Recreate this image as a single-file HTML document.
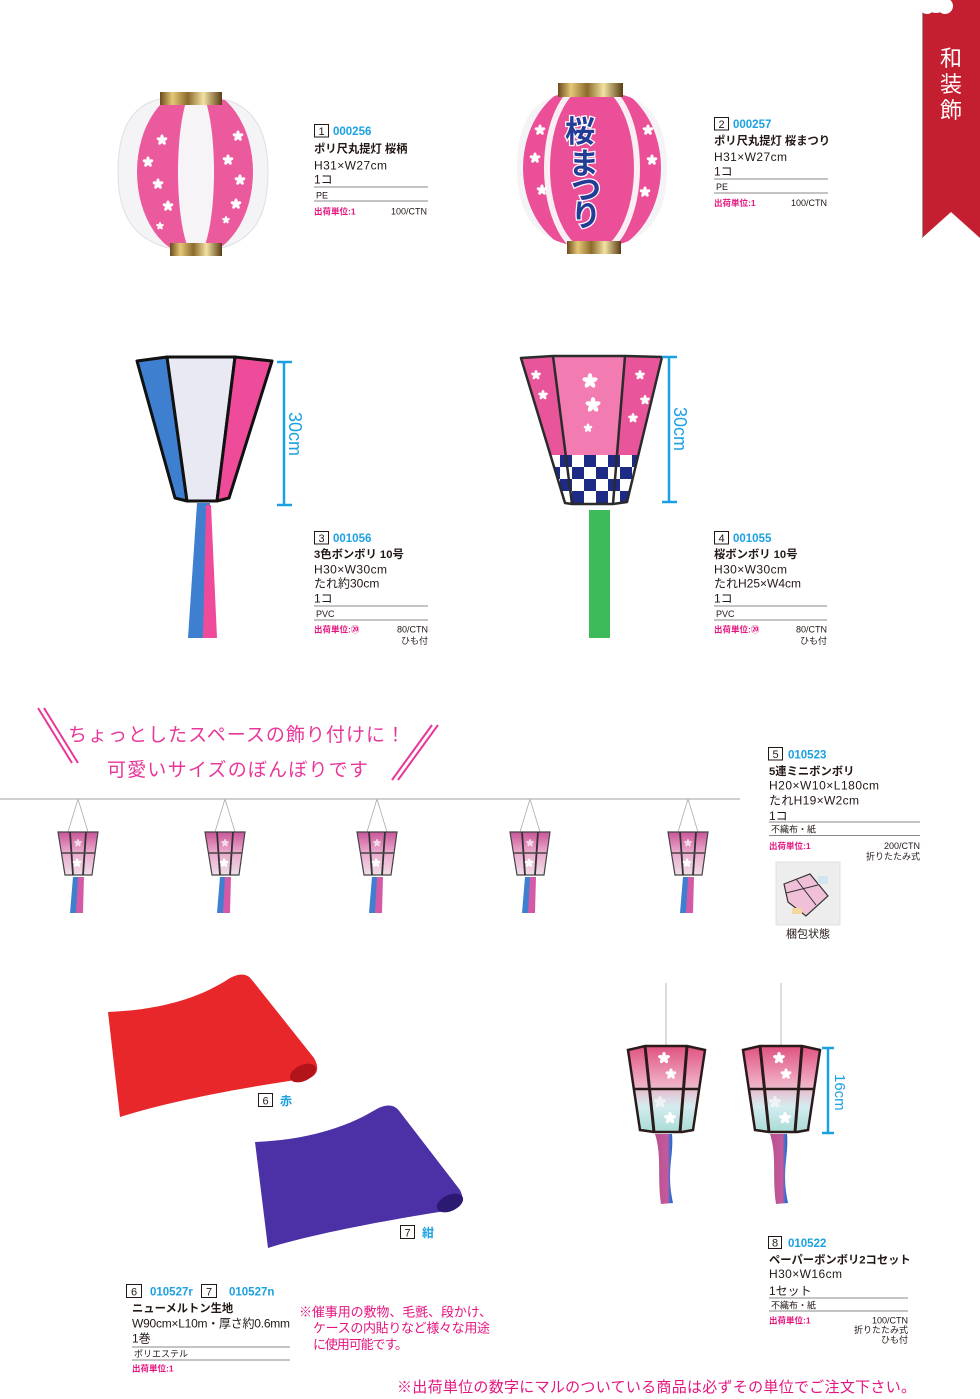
<!DOCTYPE html>
<html><head><meta charset="utf-8">
<style>
html,body{margin:0;padding:0;background:#fff;}
svg{display:block;font-family:"Liberation Sans","Noto Sans CJK JP",sans-serif;}
.c{fill:#1ba1e2;font-weight:bold;font-size:11.5px}
.n{font-weight:bold;font-size:11.3px;fill:#231815}
.s{font-size:12px;fill:#231815}
.m{font-size:9px;fill:#231815}
.p{fill:#e4157f;font-size:8.5px;font-weight:bold}
.k{font-size:9px;fill:#231815}
.bx{fill:#fff;stroke:#231815;stroke-width:1}
.bn{font-size:11px;fill:#231815;text-anchor:middle}
.ln{stroke:#888;stroke-width:1}
.dim{stroke:#1ba1e2;stroke-width:2.5;fill:none}
.dt{fill:#1ba1e2;font-size:18px}
</style></head><body>
<svg width="980" height="1399" viewBox="0 0 980 1399" xmlns="http://www.w3.org/2000/svg">
<defs>
 <linearGradient id="gold" x1="0" x2="1" y1="0" y2="0">
  <stop offset="0" stop-color="#6b4a1c"/><stop offset=".2" stop-color="#e6c878"/><stop offset=".45" stop-color="#8c6a2c"/><stop offset=".7" stop-color="#f2e2a2"/><stop offset="1" stop-color="#5a3c14"/>
 </linearGradient>
 <linearGradient id="mini" x1="0" x2="0" y1="0" y2="1">
  <stop offset="0" stop-color="#c9559a"/><stop offset=".45" stop-color="#eaa6ca"/><stop offset="1" stop-color="#efdde8"/>
 </linearGradient>
 <linearGradient id="pb" x1="0" x2="0" y1="0" y2="1">
  <stop offset="0" stop-color="#df5280"/><stop offset=".42" stop-color="#f0aac2"/><stop offset=".7" stop-color="#d4ecef"/><stop offset="1" stop-color="#a9dcd6"/>
 </linearGradient>
 <linearGradient id="tas" x1="0" x2="1" y1="0" y2="0">
  <stop offset="0" stop-color="#b8508e"/><stop offset=".7" stop-color="#c45a9c"/><stop offset=".85" stop-color="#3a6fd0"/><stop offset="1" stop-color="#2b5cc0"/>
 </linearGradient>
 <pattern id="chk" width="24" height="24" patternUnits="userSpaceOnUse" x="560" y="455">
  <rect width="24" height="24" fill="#fff"/><rect width="12" height="12" fill="#1e2b86"/><rect x="12" y="12" width="12" height="12" fill="#1e2b86"/>
 </pattern>
 <g id="sk" fill="#fff">
  <ellipse cy="-2.8" rx="1.7" ry="2.8"/>
  <ellipse cy="-2.8" rx="1.7" ry="2.8" transform="rotate(72)"/>
  <ellipse cy="-2.8" rx="1.7" ry="2.8" transform="rotate(144)"/>
  <ellipse cy="-2.8" rx="1.7" ry="2.8" transform="rotate(216)"/>
  <ellipse cy="-2.8" rx="1.7" ry="2.8" transform="rotate(288)"/>
 </g>
 <g id="ml">
  <line x1="0" y1="0" x2="-10" y2="33" stroke="#aaa" stroke-width=".8"/>
  <line x1="0" y1="0" x2="10" y2="33" stroke="#aaa" stroke-width=".8"/>
  <polygon points="-20,33 20,33 14,76 -13,76" fill="url(#mini)" stroke="#444" stroke-width="1.2"/>
  <line x1="-8" y1="33" x2="-5" y2="76" stroke="#333" stroke-width="1.8"/>
  <line x1="8" y1="33" x2="5" y2="76" stroke="#333" stroke-width="1.8"/>
  <line x1="-17" y1="54" x2="17" y2="54" stroke="#444" stroke-width="1.4"/>
  <use href="#sk" transform="translate(0,44) scale(.7)" opacity=".7"/>
  <use href="#sk" transform="translate(-1,64) scale(.8)" fill="#d86aa6"/>
  <polygon points="-5,78 1,78 0,114 -8,114" fill="#3f7fd0"/>
  <polygon points="0,78 6,78 5,114 -2,114" fill="#d45aa8"/>
 </g>
 <g id="pl">
  <line x1="0" y1="-63" x2="0" y2="0" stroke="#bbb" stroke-width="1"/>
  <polygon points="-38,4 -21,0 21,0 39,4 27,84 16,86 -12,86 -26,84" fill="url(#pb)" stroke="#2a1a1a" stroke-width="2.5"/>
  <line x1="-21" y1="0" x2="-12" y2="86" stroke="#2a1a1a" stroke-width="3"/>
  <line x1="21" y1="0" x2="14" y2="86" stroke="#2a1a1a" stroke-width="3"/>
  <line x1="-33" y1="43" x2="34" y2="43" stroke="#2a1a1a" stroke-width="2.5"/>
  <use href="#sk" transform="translate(-2,12) scale(1.1)"/>
  <use href="#sk" transform="translate(5,28) scale(1)"/>
  <use href="#sk" transform="translate(-6,56) scale(1.1)" opacity=".6"/>
  <use href="#sk" transform="translate(4,72) scale(1.1)"/>
  <path d="M-11,88 L6,88 C8,110 0,125 7,157 L-5,158 C-9,130 -4,110 -11,88 Z" fill="url(#tas)"/>
 </g>
 <clipPath id="body1"><path d="M160,99 C128,106 118,135 118,172 C118,210 130,238 168,248 L222,248 C258,238 268,210 268,172 C268,135 256,106 222,99 Z"/></clipPath>
 <clipPath id="body2"><path d="M558,95 C527,103 517,132 517,168 C517,206 529,234 566,244 L620,244 C656,234 667,206 667,168 C667,132 655,103 623,95 Z"/></clipPath>
</defs>

<!-- Red tab -->
<path d="M922,0 L980,0 L980,238 L951,212 L922,238 Z" fill="#c41f30"/>
<line x1="922.5" y1="0" x2="922.5" y2="238" stroke="#999" stroke-width="1"/>
<circle cx="927" cy="6" r="8" fill="#fff"/><circle cx="945" cy="6" r="8" fill="#fff"/><circle cx="936" cy="3" r="10" fill="#fff"/>
<text x="951" y="66" fill="#fff" font-size="22" text-anchor="middle">和</text>
<text x="951" y="92" fill="#fff" font-size="22" text-anchor="middle">装</text>
<text x="951" y="118" fill="#fff" font-size="22" text-anchor="middle">飾</text>

<!-- Lantern 1 -->
<g clip-path="url(#body1)">
 <rect x="110" y="90" width="170" height="170" fill="#f4f3f6"/>
 <ellipse cx="195" cy="172" rx="58" ry="84" fill="#ec5a9e"/>
 <ellipse cx="196" cy="172" rx="18" ry="84" fill="#f6f4f6"/>
</g>
<path d="M160,99 C128,106 118,135 118,172 C118,210 130,238 168,248 L222,248 C258,238 268,210 268,172 C268,135 256,106 222,99 Z" fill="none" stroke="#e2dde4"/>
<use href="#sk" transform="translate(162,140)"/>
<use href="#sk" transform="translate(148,162)"/>
<use href="#sk" transform="translate(158,184)"/>
<use href="#sk" transform="translate(168,206)"/>
<use href="#sk" transform="translate(160,226) scale(.7)"/>
<use href="#sk" transform="translate(238,136)"/>
<use href="#sk" transform="translate(228,160)"/>
<use href="#sk" transform="translate(240,180)"/>
<use href="#sk" transform="translate(236,204)"/>
<use href="#sk" transform="translate(226,220) scale(.7)"/>
<rect x="160" y="92" width="62" height="13" fill="url(#gold)"/>
<rect x="170" y="243" width="52" height="13" fill="url(#gold)"/>

<!-- Item 1 text -->
<rect class="bx" x="314.5" y="124.5" width="14" height="12.5"/>
<text class="bn" x="321.5" y="135">1</text>
<text class="c" x="333" y="135">000256</text>
<text class="n" x="314" y="152.5">ポリ尺丸提灯 桜柄</text>
<text class="s" x="314" y="169.5" textLength="73">H31×W27cm</text>
<text class="s" x="314" y="183.5">1コ</text>
<line class="ln" x1="314" y1="187" x2="428" y2="187"/>
<text class="m" x="316" y="198.5">PE</text>
<line class="ln" x1="314" y1="201" x2="428" y2="201"/>
<text class="p" x="314" y="214.5">出荷単位:1</text>
<text class="k" x="427" y="214.5" text-anchor="end">100/CTN</text>

<!-- Lantern 2 -->
<g clip-path="url(#body2)">
 <rect x="510" y="85" width="165" height="170" fill="#f4f3f6"/>
 <ellipse cx="592" cy="168" rx="69" ry="86" fill="#ea4f98"/>
 <ellipse cx="592" cy="168" rx="45" ry="86" fill="none" stroke="#f8eef4" stroke-width="6"/>
</g>
<use href="#sk" transform="translate(540,130)"/>
<use href="#sk" transform="translate(535,158)"/>
<use href="#sk" transform="translate(542,190)"/>
<use href="#sk" transform="translate(648,130)"/>
<use href="#sk" transform="translate(652,160)"/>
<use href="#sk" transform="translate(645,192)"/>
<g font-weight="bold" font-size="30" fill="#233d96" stroke="#fff" stroke-width="2.5" paint-order="stroke" text-anchor="middle">
 <text x="580" y="142">桜</text>
 <text x="584" y="174">ま</text>
 <text x="586" y="200">つ</text>
 <text x="586" y="226">り</text>
</g>
<rect x="558" y="83" width="65" height="14" fill="url(#gold)"/>
<rect x="567" y="241" width="54" height="13" fill="url(#gold)"/>

<!-- Item 2 text -->
<rect class="bx" x="714.5" y="117.5" width="14" height="12.5"/>
<text class="bn" x="721.5" y="128">2</text>
<text class="c" x="733" y="128">000257</text>
<text class="n" x="714" y="144.5">ポリ尺丸提灯 桜まつり</text>
<text class="s" x="714" y="161" textLength="73">H31×W27cm</text>
<text class="s" x="714" y="175.5">1コ</text>
<line class="ln" x1="714" y1="179" x2="828" y2="179"/>
<text class="m" x="716" y="190">PE</text>
<line class="ln" x1="714" y1="193" x2="828" y2="193"/>
<text class="p" x="714" y="206">出荷単位:1</text>
<text class="k" x="827" y="206" text-anchor="end">100/CTN</text>

<!-- Bonbori 3 -->
<polygon points="137,361 167,357 187,501 175,498" fill="#3f7fd0" stroke="#111" stroke-width="3" stroke-linejoin="round"/>
<polygon points="167,357 235,357 217,501 187,501" fill="#e9e9f3" stroke="#111" stroke-width="3" stroke-linejoin="round"/>
<polygon points="235,357 272,361 229,498 217,501" fill="#ee4c9b" stroke="#111" stroke-width="3" stroke-linejoin="round"/>
<polygon points="197,503 210,503 203,638 188,638" fill="#3f7fd0"/>
<polygon points="206,505 211,505 217,638 203,638" fill="#ee4c9b"/>
<line class="dim" x1="284" y1="362" x2="284" y2="505"/>
<line class="dim" x1="277" y1="362" x2="292" y2="362"/>
<line class="dim" x1="277" y1="505" x2="292" y2="505"/>
<text class="dt" transform="translate(289,412) rotate(90)">30cm</text>

<!-- Item 3 text -->
<rect class="bx" x="314.5" y="531.5" width="14" height="12.5"/>
<text class="bn" x="321.5" y="542">3</text>
<text class="c" x="333" y="542">001056</text>
<text class="n" x="314" y="558">3色ボンボリ 10号</text>
<text class="s" x="314" y="573.5" textLength="73">H30×W30cm</text>
<text class="s" x="314" y="587.5">たれ約30cm</text>
<text class="s" x="314" y="602.5">1コ</text>
<line class="ln" x1="314" y1="606" x2="428" y2="606"/>
<text class="m" x="316" y="617">PVC</text>
<line class="ln" x1="314" y1="620" x2="428" y2="620"/>
<text class="p" x="314" y="632.5">出荷単位:⑳</text>
<text class="k" x="428" y="632.5" text-anchor="end">80/CTN</text>
<text class="k" x="428" y="644" text-anchor="end">ひも付</text>

<!-- Bonbori 4 -->
<polygon points="521,358 553,356 572,504 565,503" fill="#e9559b"/>
<polygon points="553,356 625,356 613,504 572,504" fill="#f27bb2"/>
<polygon points="625,356 662,357 627,502 613,504" fill="#e9559b"/>
<clipPath id="b4"><polygon points="521,358 553,356 625,356 662,357 627,502 613,504 572,504 565,503"/></clipPath>
<rect x="520" y="455" width="145" height="52" fill="url(#chk)" clip-path="url(#b4)"/>
<use href="#sk" transform="translate(590,381) scale(1.4)"/>
<use href="#sk" transform="translate(593,405) scale(1.4)"/>
<use href="#sk" transform="translate(588,428) scale(.8)"/>
<use href="#sk" transform="translate(536,375) scale(.9)"/>
<use href="#sk" transform="translate(543,395) scale(.9)"/>
<use href="#sk" transform="translate(640,375) scale(.9)"/>
<use href="#sk" transform="translate(645,400) scale(.9)"/>
<use href="#sk" transform="translate(633,418) scale(.9)"/>
<g fill="none" stroke="#2b2b2b" stroke-width="2.5" stroke-linejoin="round">
 <polygon points="521,358 553,356 625,356 662,357 627,502 613,504 572,504 565,503"/>
 <line x1="553" y1="356" x2="572" y2="504"/>
 <line x1="625" y1="356" x2="613" y2="504"/>
</g>
<rect x="589" y="510" width="21" height="128" fill="#3dbb5a"/>
<line class="dim" x1="669" y1="357" x2="669" y2="502"/>
<line class="dim" x1="662" y1="357" x2="677" y2="357"/>
<line class="dim" x1="662" y1="502" x2="677" y2="502"/>
<text class="dt" transform="translate(674,407) rotate(90)">30cm</text>

<!-- Item 4 text -->
<rect class="bx" x="714.5" y="531.5" width="14" height="12.5"/>
<text class="bn" x="721.5" y="542">4</text>
<text class="c" x="733" y="542">001055</text>
<text class="n" x="714" y="558">桜ボンボリ 10号</text>
<text class="s" x="714" y="573.5" textLength="73">H30×W30cm</text>
<text class="s" x="714" y="587.5">たれH25×W4cm</text>
<text class="s" x="714" y="602.5">1コ</text>
<line class="ln" x1="714" y1="606" x2="827" y2="606"/>
<text class="m" x="716" y="617">PVC</text>
<line class="ln" x1="714" y1="620" x2="827" y2="620"/>
<text class="p" x="714" y="632.5">出荷単位:⑳</text>
<text class="k" x="827" y="632.5" text-anchor="end">80/CTN</text>
<text class="k" x="827" y="644" text-anchor="end">ひも付</text>

<!-- Pink header -->
<g stroke="#e8379a" stroke-width="2">
 <line x1="38" y1="708" x2="72" y2="763"/><line x1="44" y1="708" x2="78" y2="763"/>
 <line x1="432" y1="725" x2="392" y2="780"/><line x1="438" y1="725" x2="398" y2="780"/>
</g>
<text x="68" y="741" fill="#e8379a" font-size="19" textLength="337">ちょっとしたスペースの飾り付けに！</text>
<text x="107" y="776" fill="#e8379a" font-size="19" textLength="261">可愛いサイズのぼんぼりです</text>

<!-- Mini lanterns -->
<line x1="0" y1="799" x2="740" y2="799" stroke="#d0d0d0" stroke-width="2"/>
<use href="#ml" transform="translate(78,799)"/>
<use href="#ml" transform="translate(225,799)"/>
<use href="#ml" transform="translate(377,799)"/>
<use href="#ml" transform="translate(530,799)"/>
<use href="#ml" transform="translate(688,799)"/>

<!-- Item 5 text -->
<rect class="bx" x="768.5" y="747.5" width="14" height="12.5"/>
<text class="bn" x="775.5" y="758">5</text>
<text class="c" x="788" y="758.5">010523</text>
<text class="n" x="769" y="775">5連ミニボンボリ</text>
<text class="s" x="769" y="789.5" textLength="110">H20×W10×L180cm</text>
<text class="s" x="769" y="804.5" textLength="90">たれH19×W2cm</text>
<text class="s" x="769" y="820">1コ</text>
<line class="ln" x1="769" y1="822" x2="920" y2="822"/>
<text class="m" x="771" y="832.5">不織布・紙</text>
<line class="ln" x1="769" y1="835.5" x2="920" y2="835.5"/>
<text class="p" x="769" y="849">出荷単位:1</text>
<text class="k" x="920" y="849" text-anchor="end">200/CTN</text>
<text class="k" x="920" y="859.5" text-anchor="end">折りたたみ式</text>
<rect x="776" y="862" width="64" height="63" fill="#ededed" stroke="#e0e0e0"/>
<polygon points="784,884 810,874 828,896 806,916 788,902" fill="#f0c0d8" stroke="#333" stroke-width="1.2"/>
<line x1="796" y1="879" x2="816" y2="905" stroke="#333" stroke-width="1"/>
<line x1="786" y1="893" x2="818" y2="885" stroke="#333" stroke-width="1"/>
<rect x="818" y="876" width="10" height="8" fill="#cfe6f0"/>
<rect x="792" y="908" width="10" height="6" fill="#f2d8a0"/>
<text x="808" y="937.5" font-size="11" fill="#231815" text-anchor="middle">梱包状態</text>

<!-- Felt red -->
<path d="M108,1012 C160,1010 200,998 230,978 Q245,970 252,980 L314,1058 Q322,1072 310,1078 C260,1085 180,1098 120,1117 Z" fill="#e8272a"/>
<ellipse cx="303" cy="1073" rx="14" ry="8" transform="rotate(-25 303 1073)" fill="#b3141a"/>
<rect class="bx" x="258.5" y="1093.5" width="14" height="13"/>
<text class="bn" x="265.5" y="1104.5">6</text>
<text x="280" y="1105" fill="#1ba1e2" font-size="12" font-weight="bold">赤</text>

<!-- Felt blue -->
<path d="M255,1142 C305,1140 345,1128 375,1110 Q392,1100 400,1112 L460,1190 Q467,1204 452,1210 C400,1218 320,1232 268,1248 Z" fill="#4b30a6"/>
<ellipse cx="450" cy="1203" rx="14" ry="8" transform="rotate(-25 450 1203)" fill="#2c1a72"/>
<rect class="bx" x="400.5" y="1225.5" width="14" height="13"/>
<text class="bn" x="407.5" y="1236.5">7</text>
<text x="422" y="1237" fill="#1ba1e2" font-size="12" font-weight="bold">紺</text>

<!-- Item 6/7 text -->
<rect class="bx" x="126.5" y="1284.5" width="15" height="13"/>
<text class="bn" x="134" y="1295.5">6</text>
<text class="c" x="150" y="1295.5">010527r</text>
<rect class="bx" x="201.5" y="1284.5" width="15" height="13"/>
<text class="bn" x="209" y="1295.5">7</text>
<text class="c" x="229" y="1295.5">010527n</text>
<text class="n" x="132" y="1312">ニューメルトン生地</text>
<text class="s" x="132" y="1327.5" textLength="158">W90cm×L10m・厚さ約0.6mm</text>
<text class="s" x="132" y="1342.5">1巻</text>
<line class="ln" x1="132" y1="1347" x2="290" y2="1347"/>
<text class="m" x="134" y="1357">ポリエステル</text>
<line class="ln" x1="132" y1="1360" x2="290" y2="1360"/>
<text class="p" x="132" y="1371.5">出荷単位:1</text>

<g fill="#e4157f" font-size="13">
 <text x="299" y="1316.5" textLength="193">※催事用の敷物、毛氈、段かけ、</text>
 <text x="313" y="1332.5" textLength="177">ケースの内貼りなど様々な用途</text>
 <text x="313" y="1349" textLength="95">に使用可能です。</text>
</g>

<!-- Item 8 lanterns -->
<use href="#pl" transform="translate(666,1046)"/>
<use href="#pl" transform="translate(781,1046)"/>
<line class="dim" x1="828" y1="1048" x2="828" y2="1133" stroke-width="2"/>
<line class="dim" x1="822" y1="1048" x2="834" y2="1048" stroke-width="2"/>
<line class="dim" x1="822" y1="1133" x2="834" y2="1133" stroke-width="2"/>
<text class="dt" transform="translate(835,1074) rotate(90)" style="font-size:15px">16cm</text>

<!-- Item 8 text -->
<rect class="bx" x="768.5" y="1236.5" width="13" height="12"/>
<text class="bn" x="775" y="1246.5">8</text>
<text class="c" x="788" y="1247">010522</text>
<text class="n" x="769" y="1263.5">ペーパーボンボリ2コセット</text>
<text class="s" x="769" y="1278" textLength="73">H30×W16cm</text>
<text class="s" x="769" y="1295">1セット</text>
<line class="ln" x1="769" y1="1298" x2="908" y2="1298"/>
<text class="m" x="771" y="1308.5">不織布・紙</text>
<line class="ln" x1="769" y1="1311" x2="908" y2="1311"/>
<text class="p" x="769" y="1323.5">出荷単位:1</text>
<text class="k" x="908" y="1323.5" text-anchor="end">100/CTN</text>
<text class="k" x="908" y="1333" text-anchor="end">折りたたみ式</text>
<text class="k" x="908" y="1343" text-anchor="end">ひも付</text>

<!-- Bottom note -->
<text x="397" y="1392" fill="#e4157f" font-size="15" textLength="519">※出荷単位の数字にマルのついている商品は必ずその単位でご注文下さい。</text>
</svg>
</body></html>
